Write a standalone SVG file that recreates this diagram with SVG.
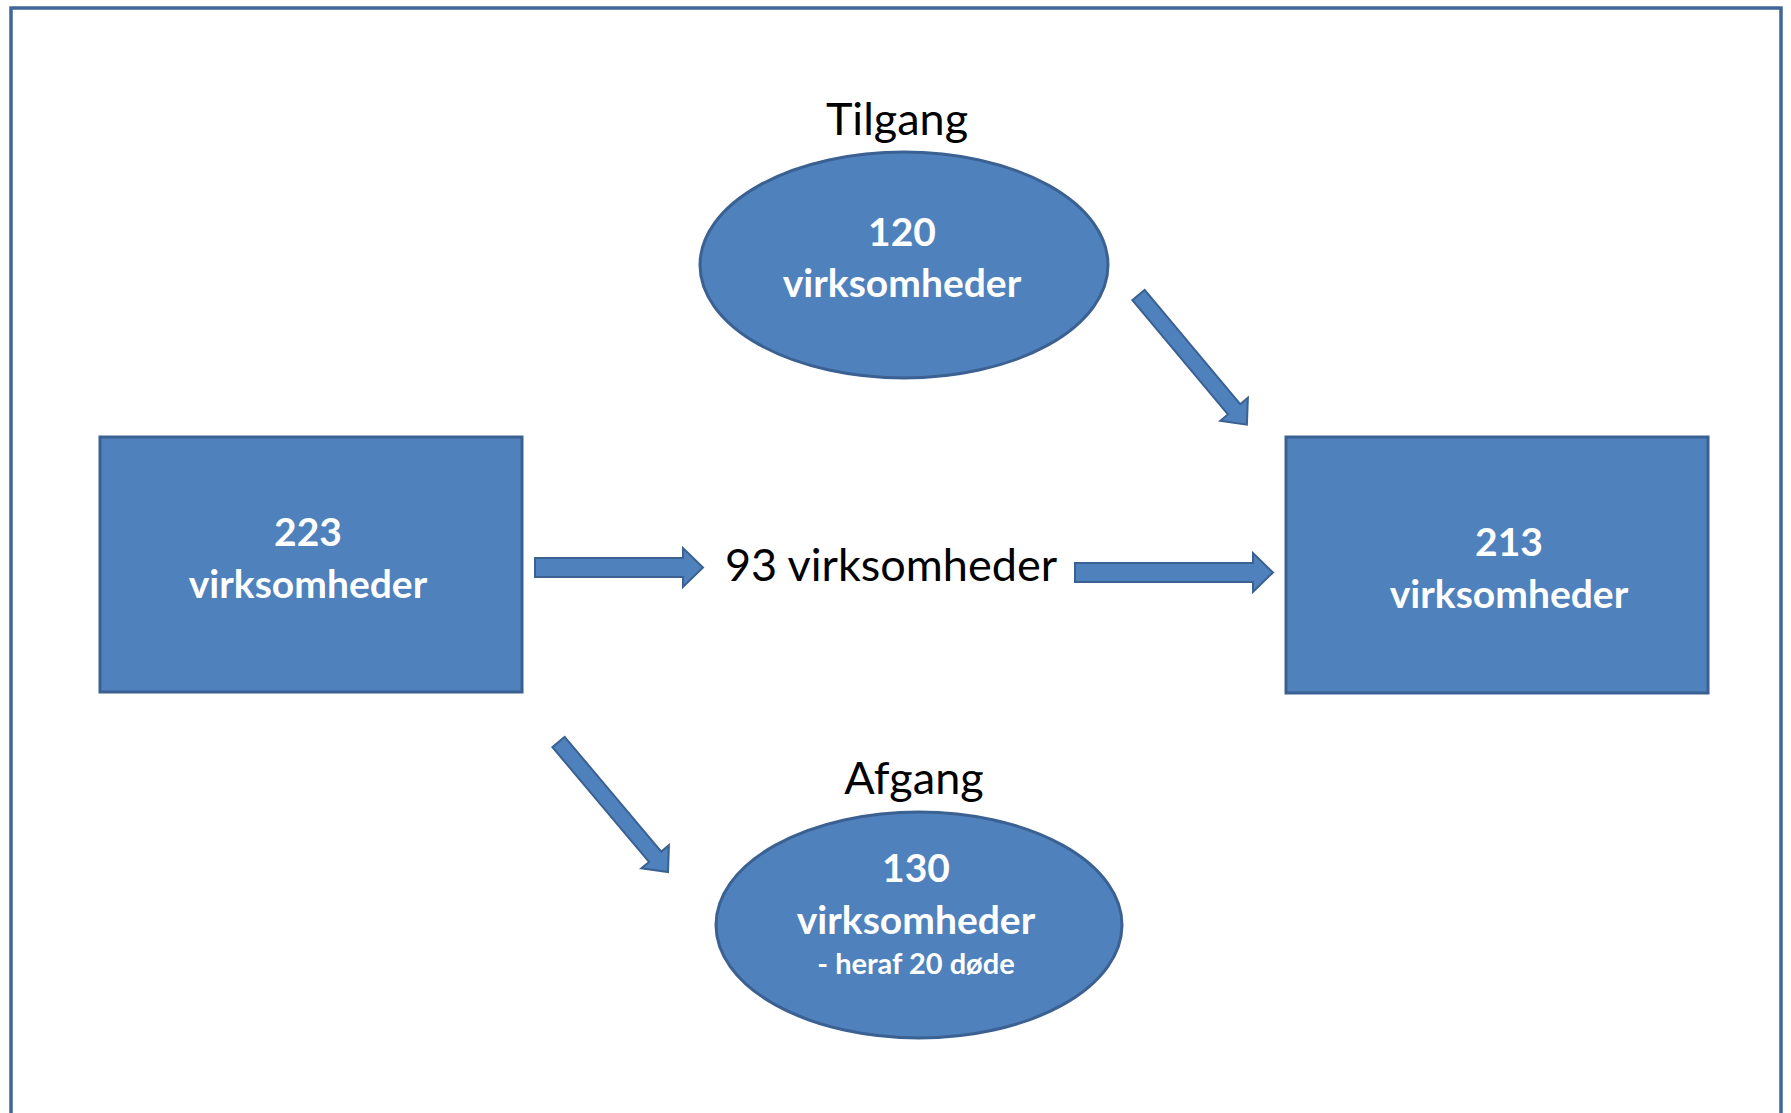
<svg xmlns="http://www.w3.org/2000/svg" width="1791" height="1113" viewBox="0 0 1791 1113">
  <style>
    .shape { fill: #4F81BD; stroke: #3A6192; stroke-width: 3; }
    .arrow { fill: #4F81BD; stroke: #3A6192; stroke-width: 2; stroke-linejoin: miter; }
    .nodetext { font-family: Lato, "Liberation Sans", sans-serif; font-weight: bold; fill: #FFFFFF; text-anchor: middle; font-size: 39px; }
    .small { font-size: 29px; }
    .label { font-family: Lato, "Liberation Sans", sans-serif; fill: #000000; text-anchor: middle; font-size: 45px; }
  </style>
  <rect x="0" y="0" width="1791" height="1113" fill="#FFFFFF"/>
  <rect id="frame" x="11" y="8" width="1770" height="1200" fill="none" stroke="#41679A" stroke-width="3.5"/>

  <g id="connectors">
    <polygon class="arrow" points="535,558 683,558 683,548 703,567.5 683,587 683,577 535,577"/>
    <polygon class="arrow" points="1075,563 1253,563 1253,553 1273,572.5 1253,592 1253,582 1075,582"/>
    <polygon class="arrow" transform="translate(1138.5,295) rotate(50.1)" points="0,-8 149,-8 149,-18 169,0 149,18 149,8 0,8"/>
    <polygon class="arrow" transform="translate(558.5,742) rotate(49.9)" points="0,-8 150,-8 150,-18 170,0 150,18 150,8 0,8"/>
  </g>

  <g id="node-start">
    <rect class="shape" x="100" y="437" width="422" height="255"/>
    <text class="nodetext" x="308" y="546">223</text>
    <text class="nodetext" x="308" y="598">virksomheder</text>
  </g>

  <g id="node-end">
    <rect class="shape" x="1286" y="437" width="422" height="256"/>
    <text class="nodetext" x="1509" y="556">213</text>
    <text class="nodetext" x="1509" y="608">virksomheder</text>
  </g>

  <g id="node-tilgang">
    <text class="label" x="897" y="135">Tilgang</text>
    <ellipse class="shape" cx="904" cy="265" rx="204" ry="113"/>
    <text class="nodetext" x="902" y="246">120</text>
    <text class="nodetext" x="902" y="297">virksomheder</text>
  </g>

  <g id="node-afgang">
    <text class="label" x="914" y="794">Afgang</text>
    <ellipse class="shape" cx="919" cy="925" rx="203" ry="113"/>
    <text class="nodetext" x="916" y="882">130</text>
    <text class="nodetext" x="916" y="934">virksomheder</text>
    <text class="nodetext small" x="916" y="974">- heraf 20 døde</text>
  </g>

  <g id="label-middle">
    <text class="label" x="891" y="581">93 virksomheder</text>
  </g>
</svg>
